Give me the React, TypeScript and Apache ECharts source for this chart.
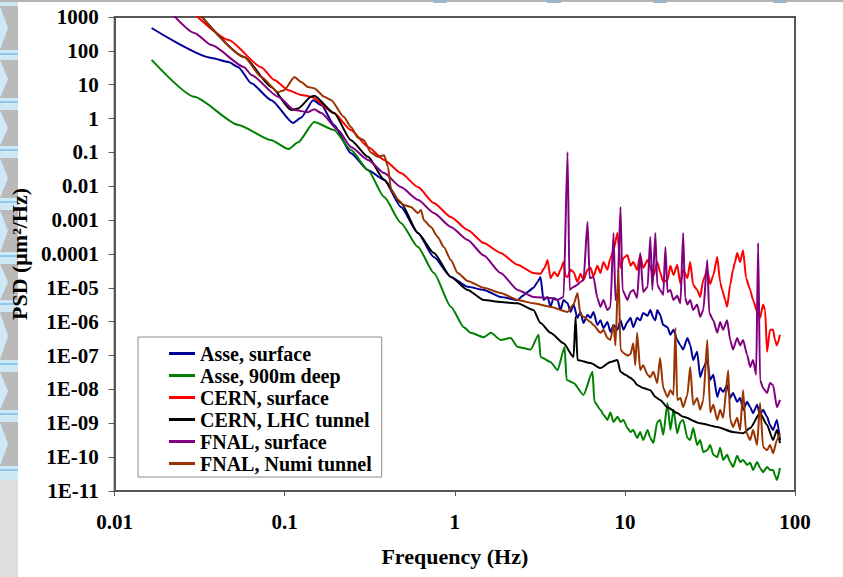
import React, { useEffect, useRef } from 'react';
import * as echarts from 'echarts';

const xTickLabels = ['0.01', '0.1', '1', '10', '100'];
const yTickLabels = ['1E-11', '1E-10', '1E-09', '1E-08', '1E-07', '1E-06', '1E-05', '0.0001', '0.001', '0.01', '0.1', '1', '10', '100', '1000'];

const seriesNames = ['Asse, surface', 'Asse, 900m deep', 'CERN, surface', 'CERN, LHC tunnel', 'FNAL, surface', 'FNAL, Numi tunnel'];
const seriesColors = ['#000099', '#008000', '#ff0000', '#000000', '#800080', '#993300'];

const asseSurface = [
  [0.0165, 473], [0.0371, 62], [0.0467, 47], [0.0534, 33], [0.0636, 11], [0.0834, 3.5], [0.112, 0.74],
  [0.125, 1.07], [0.147, 3.5], [0.164, 2.5], [0.195, 0.65], [0.245, 0.095], [0.309, 0.03], [0.384, 0.0155],
  [0.482, 0.00245], [0.607, 4.2e-4], [0.753, 8.1e-5], [0.948, 2.1e-5], [1.19, 1.07e-5], [1.48, 8.7e-6],
  [1.86, 5.4e-6], [2.34, 4.4e-6], [2.51, 5.8e-6], [2.68, 7.6e-6], [2.9, 1e-5], [3.07, 1.5e-5], [3.19, 2.1e-5],
  [3.32, 4.4e-6], [3.51, 5.4e-6], [3.65, 2.75e-6], [3.8, 5e-6], [4.02, 4.4e-6], [4.18, 2.2e-6], [4.36, 4.4e-6],
  [4.6, 3.5e-6], [4.79, 1.95e-6], [4.99, 3.2e-6], [5.26, 1.3e-6], [5.48, 1.95e-6], [5.71, 9.1e-7], [6.03, 1.6e-6],
  [6.28, 1.3e-6], [6.53, 1.95e-6], [6.89, 8e-7], [7.18, 1.1e-6], [7.48, 6.5e-7], [7.89, 9.8e-7], [8.22, 5e-7],
  [8.57, 8e-7], [9.04, 5.8e-7], [9.42, 1.1e-6], [9.8, 5.8e-7], [10.35, 9.8e-7], [10.78, 1.3e-6], [11.2, 6.9e-7],
  [11.8, 1.3e-6], [12.3, 1.1e-6], [12.8, 1.8e-6], [13.6, 1.5e-6], [14.1, 2.2e-6], [14.7, 1.3e-6], [15.1, 1.1e-6],
  [15.5, 2.2e-6], [16.1, 1.6e-6], [16.8, 8e-7], [17.8, 6.9e-7], [18.5, 4.1e-7], [19.3, 5.8e-7], [20.3, 2.9e-7],
  [21.2, 2e-7], [22.0, 1.5e-7], [23.3, 3.3e-7], [24.2, 2.1e-7], [25.2, 7.4e-8], [26.6, 1.3e-7], [27.7, 2.3e-8],
  [28.9, 4.3e-8], [30.5, 7.4e-8], [31.7, 1.9e-8], [33.1, 2.7e-8], [34.9, 6e-9], [36.3, 1.1e-8], [37.8, 8.5e-9],
  [39.9, 1.35e-8], [41.6, 5.6e-9], [43.2, 7.9e-9], [45.7, 4.3e-9], [47.6, 5.6e-9], [49.5, 2.5e-9], [52.3, 4.3e-9],
  [54.5, 3e-9], [56.7, 2e-9], [59.9, 3.5e-9], [62.3, 1.75e-9], [64.9, 2.5e-9], [68.5, 1.55e-9], [71.3, 8.9e-10],
  [74.3, 6.3e-10], [78.3, 1.26e-9], [81.6, 3.2e-10],
];

const asseDeep = [
  [0.0165, 54], [0.0294, 4.4], [0.0534, 0.65], [0.0834, 0.23], [0.105, 0.126], [0.12, 0.2], [0.149, 0.79],
  [0.195, 0.46], [0.245, 0.117], [0.309, 0.03], [0.384, 0.0048], [0.482, 8.3e-4], [0.607, 1.6e-4],
  [0.753, 2.75e-5], [0.948, 2.75e-6], [1.13, 6.9e-7], [1.24, 4.7e-7], [1.48, 3.5e-7], [1.63, 4.7e-7],
  [1.86, 2.9e-7], [2.13, 3.3e-7], [2.34, 1.8e-7], [2.79, 1.5e-7], [3.11, 4.1e-7], [3.19, 9.1e-8], [3.65, 6.5e-8],
  [4.02, 3.7e-8], [4.42, 1.8e-7], [4.54, 1.9e-8], [4.99, 1.55e-8], [5.71, 6.9e-9], [6.45, 3.3e-8], [6.62, 4.3e-9],
  [7.18, 2.5e-9], [7.48, 1.8e-9], [7.89, 1.26e-9], [8.22, 2.1e-9], [8.57, 1.1e-9], [9.04, 1.55e-9],
  [9.42, 1.1e-9], [9.8, 1.26e-9], [10.35, 7.2e-10], [10.78, 5.5e-10], [11.2, 6.3e-10], [11.8, 3.7e-10],
  [12.3, 5.5e-10], [12.8, 3.2e-10], [13.6, 6.3e-10], [14.1, 3.7e-10], [14.7, 2.6e-10], [15.5, 1.1e-9],
  [16.1, 1.26e-9], [16.8, 4.6e-10], [17.8, 4e-9], [18.5, 6.3e-10], [19.3, 2.5e-9], [20.3, 5.1e-10],
  [21.2, 1.1e-9], [22.0, 1.26e-9], [23.3, 3.7e-10], [24.2, 3.2e-10], [25.2, 7.2e-10], [26.6, 2.3e-10],
  [27.7, 3.2e-10], [28.9, 1.4e-10], [30.5, 1.6e-10], [31.7, 2.3e-10], [33.1, 1.17e-10], [34.9, 1.0e-10],
  [36.3, 1.9e-10], [37.8, 8.3e-11], [39.9, 1.17e-10], [41.6, 7.2e-11], [43.2, 5.1e-11], [45.7, 1.1e-10],
  [47.6, 7.2e-11], [49.5, 8.3e-11], [52.3, 5.9e-11], [54.5, 6.8e-11], [56.7, 4.2e-11], [59.9, 7.2e-11],
  [62.3, 4.8e-11], [64.9, 3.6e-11], [68.5, 5.1e-11], [71.3, 4.2e-11], [74.3, 4.2e-11], [76.3, 2.9e-11],
  [78.3, 2.1e-11], [81.6, 4.8e-11],
];

const cernSurface = [
  [0.0303, 1070], [0.0467, 209], [0.0728, 33], [0.0868, 13.8], [0.105, 6.9], [0.125, 5.0], [0.143, 4.4],
  [0.195, 1.45], [0.245, 0.46], [0.309, 0.145], [0.384, 0.06], [0.482, 0.0245], [0.607, 0.0095],
  [0.753, 0.0032], [0.948, 0.00123], [1.19, 5.1e-4], [1.48, 2.1e-4], [1.86, 1.07e-4], [2.34, 4.8e-5],
  [2.9, 2.75e-5], [3.19, 2.6e-5], [3.37, 3.9e-5], [3.51, 6.6e-5], [3.65, 1.95e-5], [3.85, 2.95e-5], [4.02, 2.2e-5],
  [4.18, 3.4e-5], [4.36, 5.8e-5], [4.48, 2.2e-5], [4.6, 2.1e-5], [4.79, 3.4e-5], [4.99, 2.95e-5], [5.26, 1.5e-5],
  [5.48, 2.6e-5], [5.71, 1.7e-5], [6.03, 3.4e-5], [6.28, 3.9e-5], [6.53, 2.2e-5], [6.89, 4.5e-5], [7.18, 2.75e-5],
  [7.48, 5.8e-5], [7.89, 3.4e-5], [8.22, 7.6e-5], [8.57, 1.3e-4], [9.04, 4.2e-4], [9.42, 3.9e-5], [9.8, 7.6e-5],
  [10.35, 9.3e-5], [10.78, 4.5e-5], [11.2, 5.8e-5], [11.8, 3.4e-5], [12.3, 9.3e-5], [12.8, 3.9e-5],
  [13.6, 6.6e-5], [14.1, 4.2e-5], [14.7, 2.2e-5], [15.5, 5.8e-5], [16.1, 2.95e-5], [16.8, 1.5e-5],
  [17.8, 1.7e-5], [18.5, 4.5e-5], [19.3, 2.4e-5], [20.3, 4.8e-5], [21.2, 1.3e-5], [22.0, 3.4e-5],
  [23.3, 1.95e-5], [24.2, 5.8e-5], [25.2, 1.23e-5], [26.6, 8.7e-6], [27.7, 5.4e-6], [28.9, 1.7e-5],
  [30.5, 3.4e-5], [31.7, 1.3e-5], [33.1, 2.4e-5], [34.9, 8.1e-5], [36.3, 1.5e-5], [37.3, 8.7e-6],
  [38.9, 4.4e-6], [39.9, 2.75e-6], [41.6, 1.23e-5], [43.2, 3.4e-5], [44.4, 5.8e-5], [45.7, 1.07e-4],
  [47.6, 5.8e-5], [49.5, 1.3e-4], [51.6, 1.95e-5], [54.5, 8.7e-6], [56.7, 4.4e-6], [59.9, 1.95e-6],
  [62.3, 1.3e-6], [64.9, 3.2e-6], [66.7, 2.2e-6], [68.5, 1.3e-7], [71.3, 5.8e-7], [74.3, 5.8e-7],
  [76.3, 2.9e-7], [78.3, 2.0e-7], [81.6, 4.1e-7],
];

const cernTunnel = [
  [0.0315, 1230], [0.0578, 66], [0.0834, 8.5], [0.109, 1.78], [0.12, 2.0], [0.143, 4.4], [0.149, 4.7],
  [0.195, 1.45], [0.245, 0.23], [0.309, 0.074], [0.384, 0.0155], [0.482, 0.0032], [0.607, 4.2e-4],
  [0.753, 1.07e-4], [0.948, 2.1e-5], [1.19, 8.7e-6], [1.48, 4.4e-6], [1.86, 3.8e-6], [2.34, 3.5e-6],
  [2.9, 2.2e-6], [3.19, 9.1e-7], [3.65, 4.7e-7], [4.36, 2.3e-7], [4.99, 9.1e-8], [5.13, 1.4e-6], [5.26, 7.4e-8],
  [6.28, 6e-8], [7.18, 4.3e-8], [8.22, 6.5e-8], [9.04, 7.4e-8], [9.42, 3.3e-8], [10.07, 2.7e-8], [10.78, 2.2e-8],
  [11.2, 1.9e-8], [11.8, 1.35e-8], [12.8, 1.1e-8], [14.1, 9.5e-9], [15.1, 6e-9], [16.1, 4.9e-9], [17.8, 3e-9],
  [20.3, 2e-9], [22.0, 1.55e-9], [27.7, 1.0e-9], [34.9, 7.8e-10], [43.2, 5.5e-10], [49.5, 5.1e-10],
  [54.5, 7.2e-10], [62.3, 2e-9], [68.5, 8.9e-10], [74.3, 3.2e-10], [78.3, 6.3e-10], [81.6, 2.6e-10],
];

const fnalSurface = [
  [0.0216, 1300], [0.0294, 339], [0.0371, 148], [0.0578, 33], [0.0636, 19.5], [0.0916, 4.4], [0.114, 1.78],
  [0.137, 1.55], [0.149, 1.9], [0.164, 1.45], [0.206, 0.46], [0.245, 0.145], [0.309, 0.06], [0.384, 0.0245],
  [0.482, 0.0095], [0.607, 0.004], [0.753, 0.00162], [0.948, 6.3e-4], [1.19, 2.6e-4], [1.48, 9e-5],
  [1.86, 2.75e-5], [2.34, 8.7e-6], [2.9, 5.4e-6], [3.65, 5e-6], [4.02, 4.4e-6], [4.36, 5.4e-6], [4.6, 0.102],
  [4.73, 8.7e-6], [4.99, 1.07e-5], [5.26, 1.23e-5], [5.48, 1.5e-5], [5.71, 1.7e-5], [6.03, 8.9e-4], [6.2, 1.95e-5],
  [6.53, 2.1e-5], [6.89, 5e-6], [7.18, 2.75e-6], [7.48, 4.4e-6], [7.89, 2.2e-6], [8.22, 2.75e-6], [8.57, 4.2e-4],
  [8.8, 4.4e-6], [9.04, 7.1e-6], [9.42, 0.00245], [9.68, 8.7e-6], [10.35, 4.4e-6], [10.78, 7.6e-6],
  [11.2, 8.7e-6], [11.8, 5e-6], [12.3, 1.07e-4], [12.8, 7.6e-6], [13.6, 1.07e-5], [14.1, 3.2e-4], [14.5, 8.7e-6],
  [15.1, 4.2e-4], [15.5, 1.23e-5], [16.1, 8.7e-6], [16.8, 6.2e-6], [17.3, 1.6e-4], [17.8, 7.6e-6],
  [18.5, 8.7e-6], [19.3, 4.4e-6], [20.3, 5.8e-6], [21.2, 3.5e-6], [22.0, 4.2e-4], [22.6, 5e-6], [23.3, 3.2e-6],
  [24.2, 4.4e-6], [25.2, 2.2e-6], [26.6, 3.2e-6], [27.7, 1.4e-6], [28.9, 2.2e-6], [30.5, 6.6e-5], [31.3, 1.8e-6],
  [33.1, 1.1e-6], [34.9, 4.7e-7], [36.3, 9.8e-7], [37.8, 5.8e-7], [39.9, 1.1e-6], [41.6, 2.9e-7],
  [43.2, 1.5e-7], [45.7, 3.3e-7], [47.6, 2.0e-7], [49.5, 2.9e-7], [52.3, 1.05e-7], [54.5, 4.6e-8],
  [56.7, 7.4e-8], [59.1, 2.7e-8], [60.7, 2.1e-4], [62.3, 1.9e-8], [64.9, 1.1e-8], [68.5, 7.9e-9],
  [71.3, 1.55e-8], [74.3, 1.35e-8], [78.3, 3e-9], [81.6, 4.9e-9],
];

const fnalNumi = [
  [0.0315, 1230], [0.0578, 66], [0.0728, 17], [0.0916, 6.0], [0.0993, 6.9], [0.114, 17], [0.125, 12],
  [0.137, 8.5], [0.149, 7.9], [0.171, 4.4], [0.187, 3.55], [0.223, 1.12], [0.245, 0.56], [0.27, 0.27],
  [0.292, 0.23], [0.321, 0.1], [0.353, 0.074], [0.384, 0.083], [0.405, 0.037], [0.422, 0.0078], [0.463, 0.004],
  [0.502, 0.0028], [0.552, 0.00245], [0.607, 0.00162], [0.632, 0.002], [0.658, 0.001], [0.723, 6.3e-4],
  [0.794, 3.2e-4], [0.861, 1.6e-4], [0.948, 6.6e-5], [1.04, 2.75e-5], [1.19, 1.6e-5], [1.48, 1e-5],
  [1.86, 7.1e-6], [2.34, 4.4e-6], [2.9, 3.5e-6], [3.65, 2.75e-6], [4.6, 1.95e-6], [4.99, 3.2e-6],
  [5.26, 7.1e-6], [5.48, 1.6e-6], [5.71, 1.4e-6], [6.28, 9.8e-7], [6.53, 8e-7], [7.18, 4.7e-7], [7.48, 5.8e-7],
  [7.89, 3.3e-7], [8.22, 2.9e-7], [8.57, 8e-7], [8.8, 2.0e-7], [9.16, 3.4e-5], [9.42, 1.5e-7], [9.8, 1.2e-7],
  [10.35, 1e-7], [10.78, 1.1e-7], [11.2, 2.3e-7], [11.5, 5.2e-8], [11.8, 4.7e-7], [12.3, 3.7e-8], [12.8, 5.2e-8],
  [13.6, 2.7e-8], [14.1, 2.3e-8], [14.7, 3.3e-8], [15.5, 1.55e-8], [16.1, 8.5e-8], [16.8, 1.1e-8], [17.8, 6e-9],
  [18.5, 9.5e-9], [19.3, 6.9e-9], [19.8, 6.5e-7], [20.3, 4.9e-9], [21.2, 5.6e-9], [22.0, 3e-9], [23.3, 6.9e-9],
  [24.2, 4.6e-8], [25.2, 3.5e-9], [26.6, 5.6e-9], [27.7, 2.5e-9], [28.9, 4.9e-9], [30.5, 2.9e-7], [31.7, 2.1e-9],
  [33.1, 3.5e-9], [34.9, 1.26e-9], [36.3, 2.5e-9], [37.8, 1.45e-9], [40.5, 3.7e-8], [41.6, 1.26e-9],
  [43.2, 7.8e-10], [45.7, 1.45e-9], [47.6, 6.3e-10], [49.5, 9.5e-9], [51.6, 5.5e-10], [54.5, 3.2e-10],
  [56.7, 6.3e-10], [59.9, 2.3e-10], [62.3, 4e-9], [64.9, 2e-10], [68.5, 1.6e-10], [71.3, 2.3e-10],
  [74.3, 1.3e-10], [78.3, 3.2e-10], [81.6, 5.1e-10],
];

const seriesData = [asseSurface, asseDeep, cernSurface, cernTunnel, fnalSurface, fnalNumi];

const FONT = '"Liberation Serif", "Times New Roman", serif';

export default function App() {
  const ref = useRef<HTMLDivElement>(null);

  useEffect(() => {
    if (!ref.current) return;
    const chart = echarts.init(ref.current, null, { renderer: 'svg' });

    const stripGray = [
      [6, 50], [60, 98], [110, 146], [158, 198], [210, 252], [264, 300], [312, 360], [372, 410], [422, 466],
    ];
    const stripGraphics: any[] = [
      { type: 'rect', shape: { x: 0, y: 0, width: 18, height: 577 }, style: { fill: '#cfe8f6' }, silent: true },
      { type: 'rect', shape: { x: 0, y: 480, width: 18, height: 97 }, style: { fill: '#dedede' }, silent: true },
    ];
    stripGray.forEach(([a, b]) => {
      stripGraphics.push({
        type: 'polygon',
        shape: { points: [[0, a], [18, a], [18, b], [0, b], [8, (a + b) / 2]] },
        style: { fill: '#bababa' },
        silent: true,
      });
      stripGraphics.push({
        type: 'rect',
        shape: { x: 0, y: b + 3, width: 18, height: 2 },
        style: { fill: '#8ecbee' },
        silent: true,
      });
    });
    stripGraphics.push({ type: 'rect', shape: { x: 0, y: 0, width: 843, height: 2 }, style: { fill: '#b4b4b4' }, silent: true });
    [433, 547, 653, 773].forEach((x) => {
      stripGraphics.push({ type: 'rect', shape: { x, y: 0, width: 14, height: 3 }, style: { fill: '#9db5c8' }, silent: true });
    });

    chart.setOption({
      animation: false,
      backgroundColor: '#ffffff',
      graphic: stripGraphics,
      grid: {
        left: 113,
        right: 48,
        top: 17,
        bottom: 86,
        show: true,
        borderColor: '#555555',
        borderWidth: 2,
        backgroundColor: 'transparent',
      },
      legend: {
        show: true,
        orient: 'vertical',
        left: 138,
        top: 337,
        padding: [6, 10, 3, 31],
        itemGap: 1,
        itemWidth: 26,
        itemHeight: 3,
        icon: 'rect',
        borderColor: '#8c8c8c',
        borderWidth: 1,
        backgroundColor: '#ffffff',
        textStyle: { fontFamily: FONT, fontWeight: 'bold', fontSize: 20, color: '#000', lineHeight: 21 },
        data: seriesNames,
      },
      xAxis: {
        type: 'log',
        logBase: 10,
        min: 0.01,
        max: 100,
        interval: 1,
        name: 'Frequency (Hz)',
        nameLocation: 'middle',
        nameGap: 54,
        nameTextStyle: { fontFamily: FONT, fontWeight: 'bold', fontSize: 22, color: '#000' },
        axisLine: { show: true, lineStyle: { color: '#555555', width: 2 } },
        axisTick: { show: true, inside: false, length: 5, lineStyle: { color: '#555555', width: 1 } },
        minorTick: { show: false },
        splitLine: { show: false },
        axisLabel: {
          margin: 20,
          fontFamily: FONT,
          fontWeight: 'bold',
          fontSize: 21,
          color: '#000',
          formatter: (v: number) => {
            const e = Math.round(Math.log10(v));
            return xTickLabels[e + 2] ?? '';
          },
        },
      },
      yAxis: {
        type: 'log',
        logBase: 10,
        min: 1e-11,
        max: 1000,
        interval: 1,
        name: 'PSD (μm²/Hz)',
        nameLocation: 'middle',
        nameGap: 78,
        nameTextStyle: { fontFamily: FONT, fontWeight: 'bold', fontSize: 22, color: '#000' },
        axisLine: { show: true, lineStyle: { color: '#555555', width: 2 } },
        axisTick: { show: true, inside: false, length: 6, lineStyle: { color: '#555555', width: 1 } },
        minorTick: { show: false },
        splitLine: { show: false },
        axisLabel: {
          margin: 16,
          fontFamily: FONT,
          fontWeight: 'bold',
          fontSize: 21,
          color: '#000',
          formatter: (v: number) => {
            const e = Math.round(Math.log10(v));
            return yTickLabels[e + 11] ?? '';
          },
        },
      },
      series: seriesData.map((d, i) => ({
        name: seriesNames[i],
        type: 'line',
        data: d,
        color: seriesColors[i],
        showSymbol: false,
        symbol: 'none',
        clip: true,
        smooth: 0.2,
        smoothMonotone: 'x',
        lineStyle: { color: seriesColors[i], width: 2 },
        itemStyle: { color: seriesColors[i] },
        emphasis: { disabled: true },
      })),
    });

    return () => chart.dispose();
  }, []);

  return (
    <div
      ref={ref}
      style={{ position: 'fixed', left: 0, top: 0, width: 843, height: 577, background: '#ffffff' }}
    />
  );
}
